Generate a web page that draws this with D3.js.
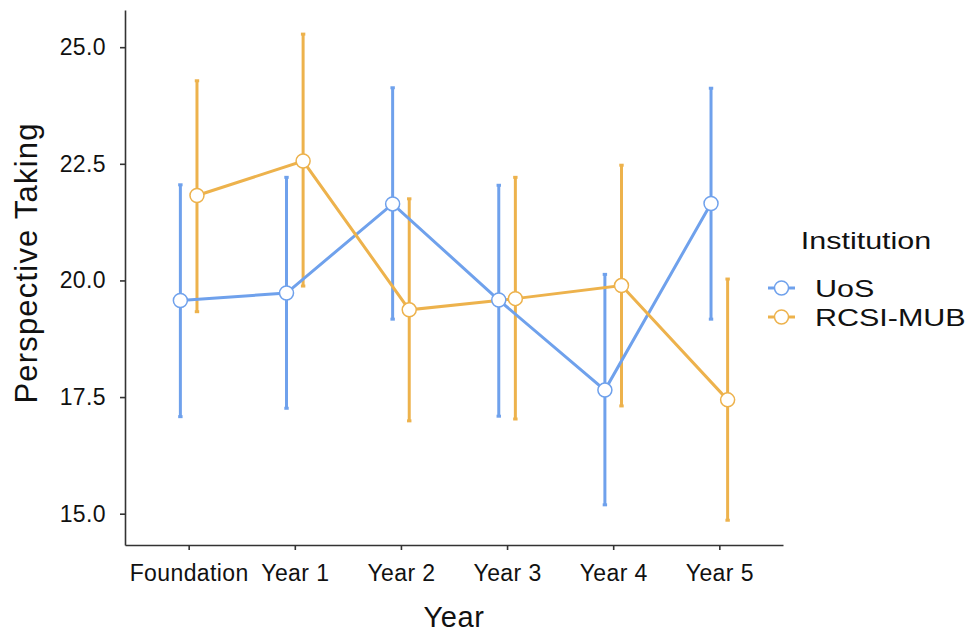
<!DOCTYPE html>
<html>
<head>
<meta charset="utf-8">
<script src="https://cdn.jsdelivr.net/npm/d3@7"></script>
<style>
  body { margin: 0; background: #fff; }
  text { font-family: "Liberation Sans", Arial, sans-serif; fill: #111; }
</style>
</head>
<body>
<div id="chart"></div>
<script>
// categories and values
const years = ["Foundation", "Year 1", "Year 2", "Year 3", "Year 4", "Year 5"];
const uosMean  = [19.57, 19.73, 21.64, 19.58, 17.65, 21.65];
const uosLower = [17.08, 17.26, 19.17, 17.09, 15.19, 19.17];
const uosUpper = [22.05, 22.21, 24.13, 22.04, 20.13, 24.12];
const rcsiMean  = [21.82, 22.56, 19.37, 19.61, 19.89, 17.44];
const rcsiLower = [19.33, 19.88, 16.99, 17.03, 17.31, 14.86];
const rcsiUpper = [24.28, 25.28, 21.75, 22.21, 22.47, 20.03];
const yTicks = [15, 17.5, 20, 22.5, 25];
const institutions = ["UoS", "RCSI-MUB"];

const colors = { "UoS": "#6fa1ec", "RCSI-MUB": "#edb24c" };
const dodge = { "UoS": -8.3, "RCSI-MUB": 8.3 };

const series = [
  { name: "UoS", mean: uosMean, lower: uosLower, upper: uosUpper },
  { name: "RCSI-MUB", mean: rcsiMean, lower: rcsiLower, upper: rcsiUpper }
].map(s => ({
  name: s.name,
  values: years.map((yr, i) => ({ year: yr, mean: s.mean[i], lower: s.lower[i], upper: s.upper[i] }))
}));

const width = 969, height = 634;
const plot = { left: 125, right: 783, top: 10, bottom: 545 };

const svg = d3.select("#chart").append("svg")
    .attr("width", width)
    .attr("height", height);

const x = d3.scalePoint().domain(years).range([plot.left, plot.right]).padding(0.6);
const y = d3.scaleLinear().domain([14.329, 25.797]).range([plot.bottom, plot.top]);

// axes
const axisColor = "#333";
const gx = svg.append("g")
    .attr("transform", "translate(0," + plot.bottom + ")")
    .call(d3.axisBottom(x).tickSize(5).tickSizeOuter(0).tickPadding(14));
const gy = svg.append("g")
    .attr("transform", "translate(" + plot.left + ",0)")
    .call(d3.axisLeft(y).tickValues(yTicks).tickFormat(d3.format(".1f")).tickSize(5).tickSizeOuter(0).tickPadding(14));

[gx, gy].forEach(g => {
  g.select(".domain").attr("stroke", axisColor).attr("stroke-width", 1.6);
  g.selectAll(".tick line").attr("stroke", axisColor).attr("stroke-width", 1.6);
  g.selectAll(".tick text").attr("font-size", 23).attr("fill", "#111")
    .attr("letter-spacing", 0.4)
    .attr("font-family", "'Liberation Sans', Arial, sans-serif");
});
gx.selectAll(".tick text").attr("dy", "0.72em");

// axis titles
svg.append("text")
    .attr("x", (plot.left + plot.right) / 2)
    .attr("y", 627)
    .attr("text-anchor", "middle")
    .attr("font-size", 29)
    .attr("letter-spacing", 0.6)
    .text("Year");

svg.append("text")
    .attr("transform", "translate(37," + 263 + ") rotate(-90)")
    .attr("text-anchor", "middle")
    .attr("font-size", 31)
    .attr("letter-spacing", 1.2)
    .text("Perspective Taking");

// error bars
series.forEach(s => {
  const g = svg.append("g").attr("class", "errorbars");
  const cx = d => x(d.year) + dodge[s.name];
  g.selectAll("line.bar").data(s.values).join("line")
      .attr("class", "bar")
      .attr("x1", cx).attr("x2", cx)
      .attr("y1", d => y(d.lower)).attr("y2", d => y(d.upper))
      .attr("stroke", colors[s.name]).attr("stroke-width", 3);
  ["lower", "upper"].forEach(k => {
    g.selectAll("line.cap-" + k).data(s.values).join("line")
        .attr("class", "cap-" + k)
        .attr("x1", d => cx(d) - 2.2).attr("x2", d => cx(d) + 2.2)
        .attr("y1", d => y(d[k])).attr("y2", d => y(d[k]))
        .attr("stroke", colors[s.name]).attr("stroke-width", 3);
  });
});

// lines
const line = d3.line()
    .x(d => x(d.year) + dodge[d.name])
    .y(d => y(d.mean));

series.forEach(s => {
  svg.append("path")
      .datum(s.values.map(v => Object.assign({ name: s.name }, v)))
      .attr("fill", "none")
      .attr("stroke", colors[s.name])
      .attr("stroke-width", 3)
      .attr("d", line);
});

// points
series.forEach(s => {
  svg.append("g").selectAll("circle").data(s.values).join("circle")
      .attr("cx", d => x(d.year) + dodge[s.name])
      .attr("cy", d => y(d.mean))
      .attr("r", 7)
      .attr("fill", "#fff")
      .attr("stroke", colors[s.name])
      .attr("stroke-width", 1.5);
});

// legend (text in the reference is drawn wide, so it is stretched horizontally)
const legend = svg.append("g").attr("transform", "translate(767,0)");
legend.append("text")
    .attr("transform", "translate(99,249) scale(1.27,1)")
    .attr("text-anchor", "middle")
    .attr("font-size", 24)
    .text("Institution");

const keyY = d3.scalePoint().domain(institutions).range([288, 317]);
institutions.forEach(name => {
  const k = legend.append("g").attr("transform", "translate(0," + keyY(name) + ")");
  k.append("line")
      .attr("x1", 1).attr("x2", 28)
      .attr("stroke", colors[name]).attr("stroke-width", 3);
  k.append("circle")
      .attr("cx", 14.5).attr("r", 7)
      .attr("fill", "#fff")
      .attr("stroke", colors[name]).attr("stroke-width", 1.5);
  k.append("text")
      .attr("transform", "translate(48,0) scale(1.27,1)")
      .attr("dy", "0.36em")
      .attr("font-size", 24)
      .text(name);
});
</script>
</body>
</html>
